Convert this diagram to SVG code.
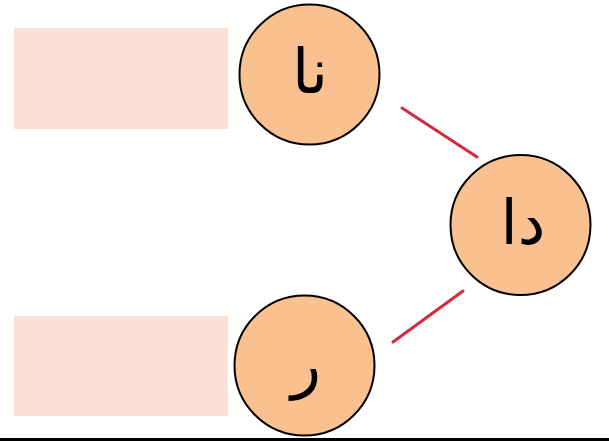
<svg xmlns="http://www.w3.org/2000/svg" width="609" height="441" viewBox="0 0 609 441">
<style>
.box{fill:#FCE0D5}
.node{fill:#F9C18F;stroke:#000;stroke-width:2}
.lbl{font-family:"DejaVu Sans",sans-serif;font-size:62px;fill:#000;text-anchor:middle}
.conn{stroke:#D42A40;stroke-width:3;stroke-linecap:round}
</style>
<rect width="609" height="441" fill="#fff"/>
<g id="box-top"><rect class="box" x="14" y="28" width="214" height="101"/></g>
<g id="box-bottom"><rect class="box" x="14" y="316" width="214" height="100"/></g>
<g id="connectors">
<line class="conn" x1="402" y1="108" x2="477" y2="157"/>
<line class="conn" x1="393" y1="342" x2="463" y2="291"/>
</g>
<g id="node-na"><circle class="node" cx="309.5" cy="74.5" r="70"/><text class="lbl" x="310" y="93">نا</text></g>
<g id="node-da"><circle class="node" cx="520.5" cy="225" r="70"/><text class="lbl" x="523" y="244">دا</text></g>
<g id="node-ra"><circle class="node" cx="304.5" cy="365.5" r="70"/><text class="lbl" x="306" y="386">ر</text></g>
<rect x="0" y="438" width="609" height="3" fill="#000"/>
</svg>
